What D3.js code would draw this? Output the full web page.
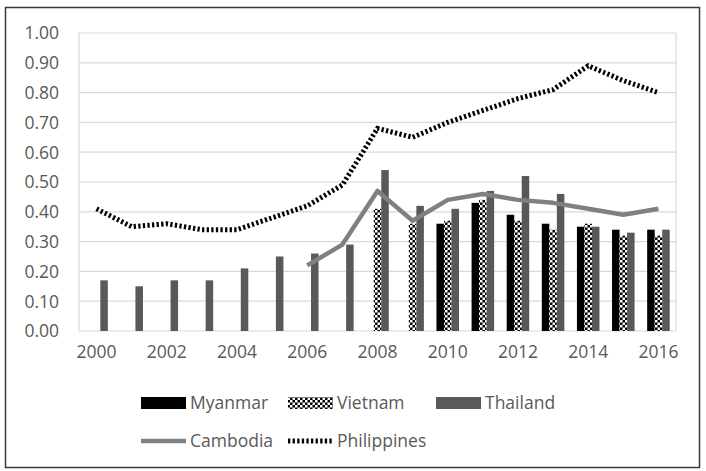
<!DOCTYPE html>
<html>
<head>
<meta charset="utf-8">
<script src="https://cdn.jsdelivr.net/npm/d3@7"></script>
<style>
  html, body { margin: 0; padding: 0; background: #fff; }
  svg { display: block; }
  text { font-family: "Open Sans", sans-serif; fill: #595959; }
</style>
</head>
<body>
<svg id="chart" width="706" height="471"></svg>
<script>
// Categories (years) and series values
const years = ["2000","2001","2002","2003","2004","2005","2006","2007","2008","2009","2010","2011","2012","2013","2014","2015","2016"];
const myanmar     = [null,null,null,null,null,null,null,null,null,null,0.36,0.43,0.39,0.36,0.35,0.34,0.34];
const vietnam     = [null,null,null,null,null,null,null,null,0.41,0.36,0.37,0.44,0.37,0.34,0.36,0.32,0.32];
const thailand    = [0.17,0.15,0.17,0.17,0.21,0.25,0.26,0.29,0.54,0.42,0.41,0.47,0.52,0.46,0.35,0.33,0.34];
const cambodia    = [null,null,null,null,null,null,0.22,0.29,0.47,0.37,0.44,0.46,0.44,0.43,0.41,0.39,0.41];
const philippines = [0.41,0.35,0.36,0.34,0.34,0.38,0.42,0.49,0.68,0.65,0.70,0.74,0.78,0.81,0.89,0.84,0.80];
const yTicks = [0,0.1,0.2,0.3,0.4,0.5,0.6,0.7,0.8,0.9,1.0];
const xTickLabels = ["2000","2002","2004","2006","2008","2010","2012","2014","2016"];

const svg = d3.select("#chart");

// Vietnam checkerboard fill
const defs = svg.append("defs");
const pat = defs.append("pattern")
  .attr("id", "checker").attr("patternUnits", "userSpaceOnUse")
  .attr("width", 5).attr("height", 5);
pat.append("rect").attr("width", 5).attr("height", 5).attr("fill", "#000");
pat.append("rect").attr("x", 0).attr("y", 0).attr("width", 2.5).attr("height", 2.5).attr("fill", "#fff");
pat.append("rect").attr("x", 2.5).attr("y", 2.5).attr("width", 2.5).attr("height", 2.5).attr("fill", "#fff");

// Outer frame
svg.append("rect")
  .attr("x", 5.5).attr("y", 7.5).attr("width", 694).attr("height", 460)
  .attr("fill", "#fff").attr("stroke", "#3a3a3a").attr("stroke-width", 1.5);

const plot = { left: 79, right: 676, top: 33, bottom: 331 };

const x = d3.scaleBand().domain(years).range([plot.left, plot.right]).paddingInner(0).paddingOuter(0);
const y = d3.scaleLinear().domain([0, 1]).range([plot.bottom, plot.top]);

// Gridlines
svg.append("g").selectAll("line").data(yTicks).join("line")
  .attr("x1", plot.left).attr("x2", plot.right)
  .attr("y1", d => y(d)).attr("y2", d => y(d))
  .attr("stroke", "#d9d9d9").attr("stroke-width", 1.2);
svg.append("line").attr("x1", plot.left).attr("x2", plot.left)
  .attr("y1", plot.top).attr("y2", plot.bottom).attr("stroke", "#d9d9d9").attr("stroke-width", 1.2);
svg.append("line").attr("x1", plot.right).attr("x2", plot.right)
  .attr("y1", plot.top).attr("y2", plot.bottom).attr("stroke", "#d9d9d9").attr("stroke-width", 1.2);

// Y axis labels
const yAxis = d3.axisLeft(y).tickValues(yTicks).tickFormat(d3.format(".2f")).tickSize(0).tickPadding(0);
const gy = svg.append("g").attr("transform", `translate(${plot.left - 20},0)`).call(yAxis);
gy.select(".domain").remove();
gy.selectAll("text").style("font-size", "17.5px").attr("fill", "#595959").attr("dy", "0.34em");

// X axis labels
const xAxis = d3.axisBottom(x).tickValues(xTickLabels).tickSize(0).tickPadding(0);
const gx = svg.append("g").attr("transform", `translate(0,${plot.bottom + 14})`).call(xAxis);
gx.select(".domain").remove();
gx.selectAll("text").style("font-size", "17.5px").attr("fill", "#595959").attr("dy", "0.76em");

// Clustered bars
const barSeries = [
  { name: "Myanmar", values: myanmar, fill: "#000" },
  { name: "Vietnam", values: vietnam, fill: "url(#checker)" },
  { name: "Thailand", values: thailand, fill: "#595959" }
];
const barW = x.bandwidth() * 0.214;
const clusterW = barW * barSeries.length;
barSeries.forEach((s, i) => {
  svg.append("g").selectAll("rect")
    .data(years.map((yr, k) => ({ yr, v: s.values[k] })).filter(d => d.v != null))
    .join("rect")
    .attr("x", d => x(d.yr) + x.bandwidth() / 2 - clusterW / 2 + i * barW)
    .attr("width", barW)
    .attr("y", d => y(d.v))
    .attr("height", d => y(0) - y(d.v))
    .attr("fill", s.fill);
});

// Lines
const line = d3.line()
  .defined(d => d.v != null)
  .x(d => x(d.yr) + x.bandwidth() / 2)
  .y(d => y(d.v));

svg.append("path")
  .datum(years.map((yr, k) => ({ yr, v: cambodia[k] })))
  .attr("d", line).attr("fill", "none")
  .attr("stroke", "#808080").attr("stroke-width", 4.5)
  .attr("stroke-linejoin", "round");

svg.append("path")
  .datum(years.map((yr, k) => ({ yr, v: philippines[k] })))
  .attr("d", line).attr("fill", "none")
  .attr("stroke", "#000").attr("stroke-width", 5)
  .attr("stroke-dasharray", "2.3 2.3");

// Legend
const legend = svg.append("g").style("font-size", "17.5px");
const row1 = 403, row2 = 441;
const items = [
  { name: "Myanmar", type: "rect", fill: "#000", x: 141, row: row1 },
  { name: "Vietnam", type: "rect", fill: "url(#checker)", x: 288, row: row1 },
  { name: "Thailand", type: "rect", fill: "#595959", x: 436, row: row1 },
  { name: "Cambodia", type: "line", stroke: "#808080", dash: null, width: 4.5, x: 141, row: row2 },
  { name: "Philippines", type: "line", stroke: "#000", dash: "2.3 2.3", width: 5, x: 288, row: row2 }
];
items.forEach(it => {
  if (it.type === "rect") {
    legend.append("rect").attr("x", it.x).attr("y", it.row - 6).attr("width", 45).attr("height", 12).attr("fill", it.fill);
  } else {
    legend.append("line").attr("x1", it.x).attr("x2", it.x + 45).attr("y1", it.row).attr("y2", it.row)
      .attr("stroke", it.stroke).attr("stroke-width", it.width).attr("stroke-dasharray", it.dash);
  }
  legend.append("text").attr("x", it.x + 49).attr("y", it.row).attr("dy", "0.35em").text(it.name);
});
</script>
</body>
</html>
